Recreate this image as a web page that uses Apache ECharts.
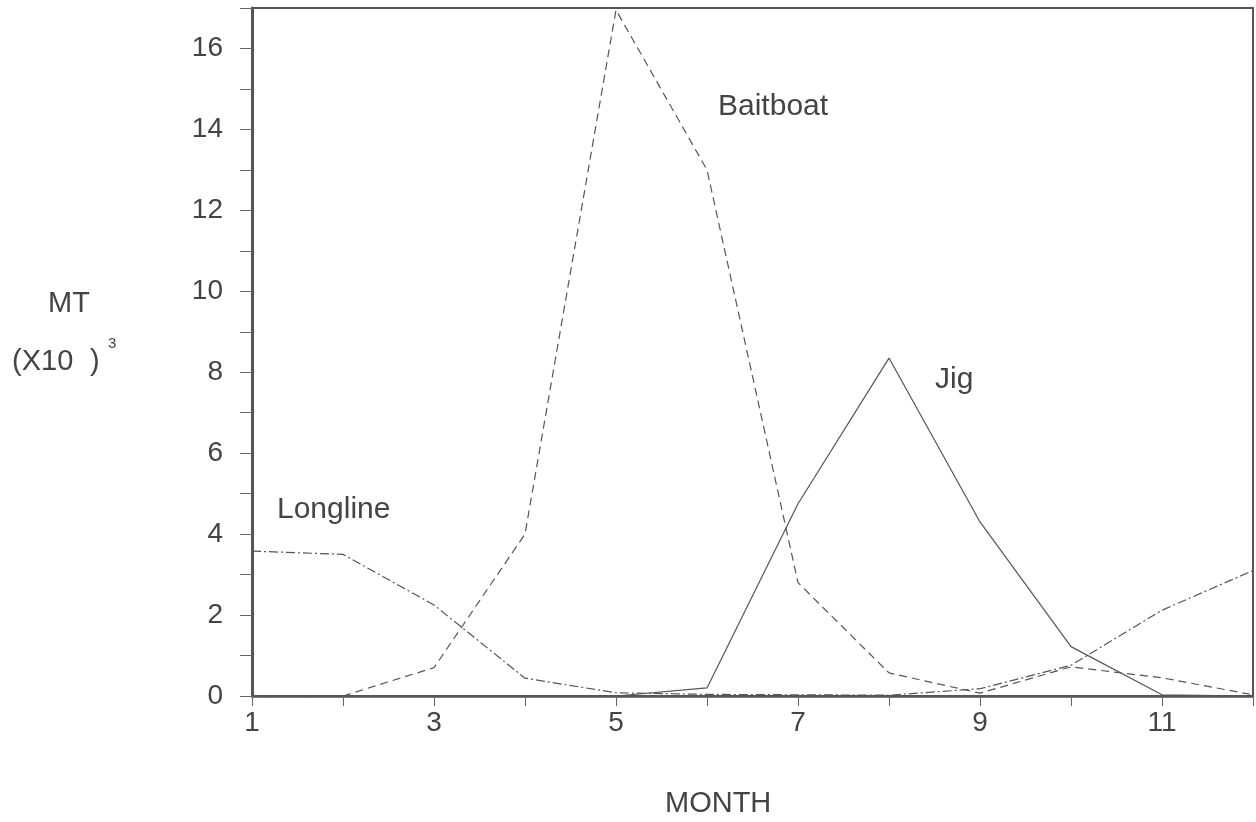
<!DOCTYPE html>
<html>
<head>
<meta charset="utf-8">
<script src="https://cdn.jsdelivr.net/npm/echarts@6/dist/echarts.min.js"></script>
<style>
  html, body { margin: 0; padding: 0; background: #fff; }
  #main { width: 1256px; height: 822px; }
</style>
</head>
<body>
<div id="main"></div>
<script>
// months 1..12
var months = [1, 2, 3, 4, 5, 6, 7, 8, 9, 10, 11, 12];
// catch in thousands of MT
var baitboat = [0, 0, 0.7, 4.0, 16.95, 13.0, 2.8, 0.57, 0.07, 0.72, 0.45, 0.03];
var jig      = [null, null, null, null, 0, 0.2, 4.75, 8.35, 4.3, 1.22, 0.03, 0];
var longline = [3.58, 3.5, 2.25, 0.44, 0.08, 0.04, 0.03, 0.02, 0.18, 0.76, 2.12, 3.1];

var xTicks = [1, 3, 5, 7, 9, 11];
var yTicks = [0, 2, 4, 6, 8, 10, 12, 14, 16];

var ink = '#444';
var font = '"Liberation Sans", Arial, sans-serif';

function pairs(vals) {
    return months.map(function (m, i) { return [m, vals[i]]; });
}

function label(txt, x, y, size) {
    return { type: 'text', left: x, top: y, style: { text: txt, font: size + 'px ' + font, fill: ink } };
}

var chart = echarts.init(document.getElementById('main'));

chart.setOption({
    backgroundColor: '#fff',
    animation: false,
    textStyle: { fontFamily: font, color: ink },
    grid: { left: 252, right: 3, top: 8, bottom: 126, show: true, borderColor: '#555', borderWidth: 2 },
    xAxis: {
        type: 'value',
        min: 1, max: 12, interval: 1,
        axisLine: { onZero: false, lineStyle: { color: '#555', width: 2.5 } },
        axisTick: { show: true, length: 10, lineStyle: { color: '#666', width: 1 } },
        splitLine: { show: false },
        axisLabel: {
            margin: 13, fontSize: 28, color: ink, fontFamily: font,
            formatter: function (v) { return xTicks.indexOf(v) >= 0 ? String(v) : ''; }
        }
    },
    yAxis: {
        type: 'value',
        min: 0, max: 17, interval: 1,
        axisLine: { show: true, lineStyle: { color: '#555', width: 3 } },
        axisTick: { show: true, length: 12, lineStyle: { color: '#666', width: 1 } },
        splitLine: { show: false },
        axisLabel: {
            margin: 29, fontSize: 28, color: ink, fontFamily: font,
            formatter: function (v) { return yTicks.indexOf(v) >= 0 ? String(v) : ''; }
        }
    },
    series: [
        {
            name: 'Baitboat', type: 'line', data: pairs(baitboat),
            symbol: 'none', z: 3,
            lineStyle: { color: '#555', width: 1.2, type: [8, 5] }
        },
        {
            name: 'Jig', type: 'line', data: pairs(jig),
            symbol: 'none', z: 3,
            lineStyle: { color: '#555', width: 1.2, type: 'solid' }
        },
        {
            name: 'Longline', type: 'line', data: pairs(longline),
            symbol: 'none', z: 3,
            lineStyle: { color: '#555', width: 1.2, type: [9, 3, 2, 3] }
        }
    ],
    graphic: [
        label('Baitboat', 718, 92, 30),
        label('Jig', 935, 365, 30),
        label('Longline', 277, 495, 30),
        label('MT', 48, 289, 29),
        label('(X10', 12, 347, 29),
        label(')', 90, 347, 29),
        label('3', 108, 336, 15),
        label('MONTH', 665, 789, 29)
    ]
});
</script>
</body>
</html>
